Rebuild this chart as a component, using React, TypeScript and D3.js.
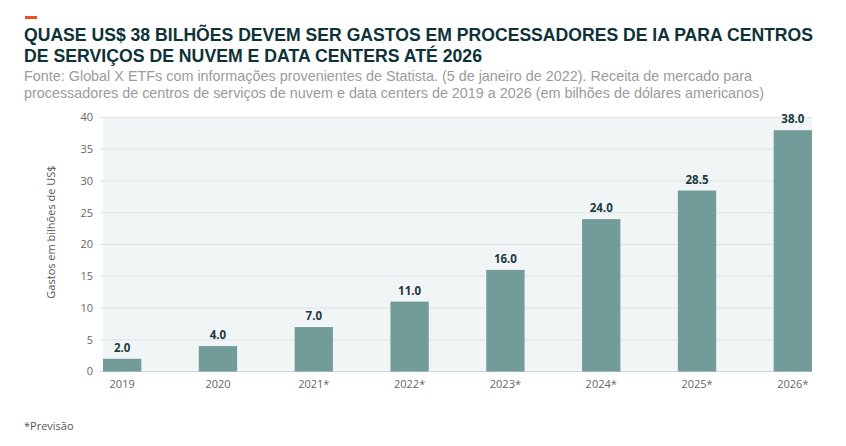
import React from "react";
import * as d3 from "d3";

const years = ["2019", "2020", "2021*", "2022*", "2023*", "2024*", "2025*", "2026*"];
const values = [2.0, 4.0, 7.0, 11.0, 16.0, 24.0, 28.5, 38.0];
const yTicks = [0, 5, 10, 15, 20, 25, 30, 35, 40];
const titleLines = [
  "QUASE US$ 38 BILHÕES DEVEM SER GASTOS EM PROCESSADORES DE IA PARA CENTROS",
  "DE SERVIÇOS DE NUVEM E DATA CENTERS ATÉ 2026",
];
const subtitleLines = [
  "Fonte: Global X ETFs com informações provenientes de Statista. (5 de janeiro de 2022). Receita de mercado para",
  "processadores de centros de serviços de nuvem e data centers de 2019 a 2026 (em bilhões de dólares americanos)",
];
const yAxisTitle = "Gastos em bilhões de US$";
const footnote = "*Previsão";

export default function App() {
  const W = 846, H = 446;
  const left = 103, right = 812, top = 117.5, bottom = 371.5;
  const x = d3.scaleBand<string>().domain(years).range([left, right]).paddingInner(0.6).paddingOuter(0);
  const y = d3.scaleLinear().domain([0, 40]).range([bottom, top]);
  const axisFont = "'Open Sans', 'Noto Sans', sans-serif";

  return (
    <svg width={W} height={H} style={{ position: "absolute", left: 0, top: 0, background: "#fff" }}>
      <rect x={25} y={16} width={12} height={3} fill="#f04e23" />
      {titleLines.map((t, i) => (
        <text key={t} x={24} y={41 + i * 20.7} fontFamily="'Liberation Sans', Arial, sans-serif" fontWeight="bold"
          fontSize={17.8} fill="#0e3237" textLength={i === 0 ? 789 : 458} lengthAdjust="spacingAndGlyphs">{t}</text>
      ))}
      {subtitleLines.map((t, i) => (
        <text key={t} x={24} y={80.5 + i * 17.5} fontFamily="'Liberation Sans', Arial, sans-serif"
          fontSize={14.5} fill="#9b9b9b" textLength={i === 0 ? 728 : 740} lengthAdjust="spacingAndGlyphs">{t}</text>
      ))}
      <rect x={left} y={top} width={right - left} height={bottom - top} fill="#f1f5f6" />
      {yTicks.map((t) => (
        <g key={t}>
          <line x1={left - 3} x2={right} y1={y(t)} y2={y(t)} stroke={t === 0 ? "#cfd5d8" : "#dde3e5"} strokeWidth={1} />
          <text x={93} y={y(t)} dy="0.35em" textAnchor="end" fontFamily={axisFont} fontSize={11} fill="#666">{t}</text>
        </g>
      ))}
      {years.map((yr, i) => (
        <g key={yr}>
          <rect x={x(yr)} y={y(values[i])} width={x.bandwidth()} height={y(0) - y(values[i])} fill="#729c9a" />
          <text x={(x(yr) as number) + x.bandwidth() / 2} y={y(values[i]) - 7} textAnchor="middle"
            fontFamily={axisFont} fontWeight="bold" fontSize={11.5} fill="#1d3a3e">{values[i].toFixed(1)}</text>
          <text x={(x(yr) as number) + x.bandwidth() / 2} y={388} textAnchor="middle"
            fontFamily={axisFont} fontSize={11} fill="#666">{yr}</text>
        </g>
      ))}
      <text transform={`translate(55,232) rotate(-90)`} textAnchor="middle" fontFamily={axisFont} fontSize={11} fill="#555">{yAxisTitle}</text>
      <text x={24} y={430} fontFamily={axisFont} fontSize={11} fill="#555">{footnote}</text>
    </svg>
  );
}
